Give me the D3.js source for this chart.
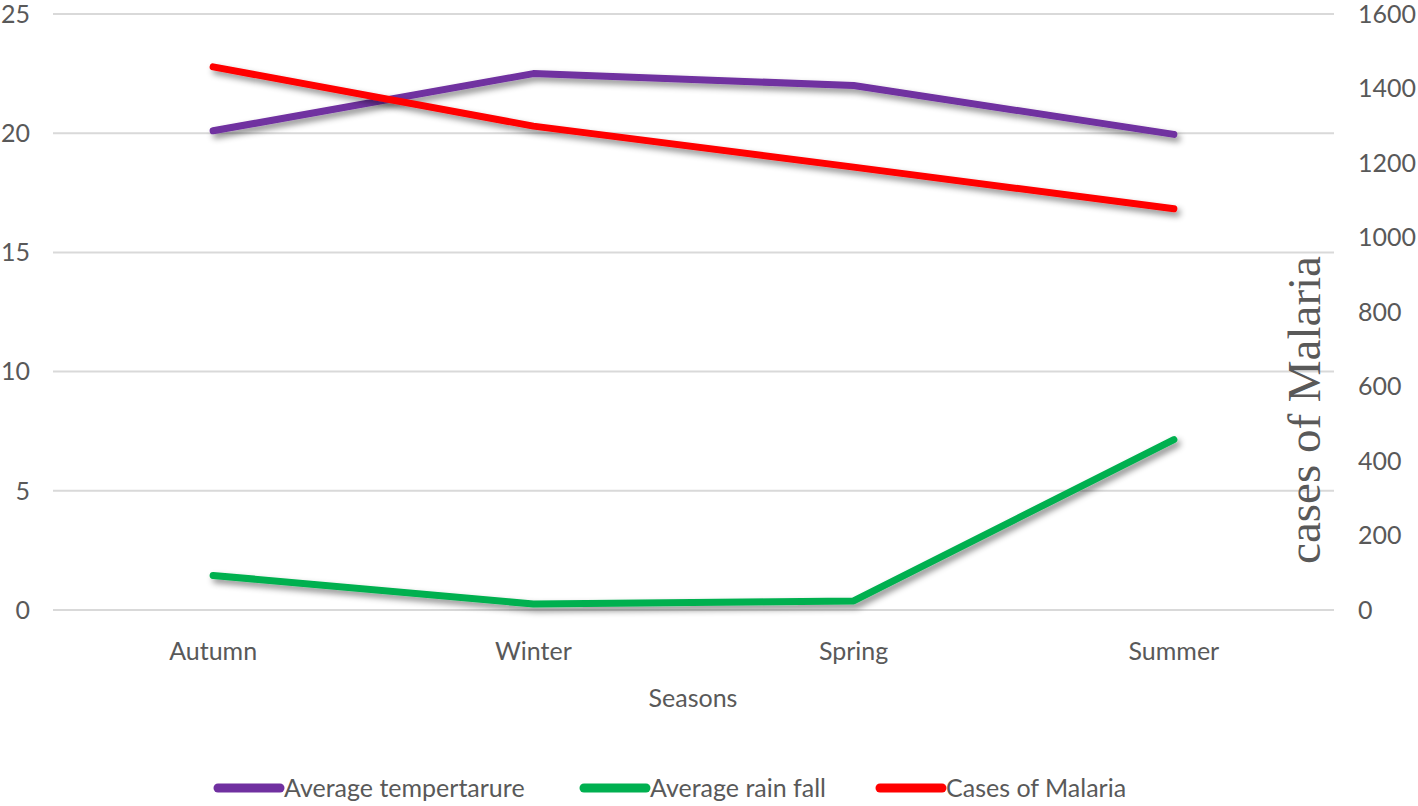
<!DOCTYPE html>
<html><head><meta charset="utf-8">
<script src="https://cdn.jsdelivr.net/npm/d3@7"></script>
<style>body{margin:0;background:#fff;} text{font-family:Lato,"Open Sans",sans-serif;}</style>
</head><body><svg id="c" width="1418" height="806"></svg>
<script>
const seasons = ["Autumn","Winter","Spring","Summer"];
const temperature = [20.1, 22.5, 22.0, 19.95];
const rainfall = [1.45, 0.25, 0.38, 7.15];
const malaria = [1458, 1299, 1189, 1077];
const leftTicks = [0,5,10,15,20,25];
const rightTicks = [0,200,400,600,800,1000,1200,1400,1600];
const seriesNames = ["Average tempertarure","Average rain fall","Cases of Malaria"];
const colors = ["#7030A0","#00B050","#FF0000"];

const svg = d3.select("#c");
const defs = svg.append("defs");
const f = defs.append("filter").attr("id","sh").attr("x","-10%").attr("y","-50%").attr("width","120%").attr("height","200%");
f.append("feDropShadow").attr("dx",3).attr("dy",4).attr("stdDeviation",3).attr("flood-color","#000").attr("flood-opacity",0.45);

const x = d3.scaleBand().domain(seasons).range([53,1334]);
const yL = d3.scaleLinear().domain([0,25]).range([610,14]);
const yR = d3.scaleLinear().domain([0,1600]).range([610,14]);
const FS = 25;

// gridlines
svg.append("g").selectAll("line").data(leftTicks).join("line")
  .attr("x1",53).attr("x2",1334).attr("y1",d=>yL(d)).attr("y2",d=>yL(d))
  .attr("stroke","#d9d9d9").attr("stroke-width",2);

// left axis labels
svg.append("g").selectAll("text").data(leftTicks).join("text")
  .attr("x",30).attr("y",d=>yL(d)).attr("dy","0.35em").attr("text-anchor","end")
  .attr("font-size",FS).attr("fill","#595959").text(d=>d);

// right axis labels
svg.append("g").selectAll("text").data(rightTicks).join("text")
  .attr("x",1358).attr("y",d=>yR(d)).attr("dy","0.35em").attr("text-anchor","start")
  .attr("font-size",FS).attr("fill","#595959").text(d=>d);

// category labels
svg.append("g").selectAll("text").data(seasons).join("text")
  .attr("x",d=>x(d)+x.bandwidth()/2).attr("y",651).attr("dy","0.35em").attr("text-anchor","middle")
  .attr("font-size",FS).attr("fill","#595959").text(d=>d);

svg.append("text").attr("x",693).attr("y",698).attr("dy","0.35em").attr("text-anchor","middle")
  .attr("font-size",FS).attr("fill","#595959").text("Seasons");

svg.append("text").attr("transform","translate(1320,410) rotate(-90)").attr("text-anchor","middle")
  .style("font-family","'Liberation Serif','Times New Roman',serif").attr("font-size",47).attr("fill","#595959")
  .text("cases of Malaria");

const cx = d => x(d)+x.bandwidth()/2;
const series = [
  {vals:temperature, y:yL},
  {vals:rainfall, y:yL},
  {vals:malaria, y:yR}
];
series.forEach((s,i)=>{
  const line = d3.line().x((d,j)=>cx(seasons[j])).y(d=>s.y(d));
  svg.append("path").datum(s.vals).attr("d",line).attr("fill","none")
    .attr("stroke",colors[i]).attr("stroke-width",7).attr("stroke-linecap","round").attr("stroke-linejoin","round")
    .attr("filter","url(#sh)");
});

// legend
const legX = [218,584,880];
const lg = svg.append("g");
seriesNames.forEach((n,i)=>{
  lg.append("line").attr("x1",legX[i]).attr("x2",legX[i]+62).attr("y1",788).attr("y2",788)
    .attr("stroke",colors[i]).attr("stroke-width",9).attr("stroke-linecap","round");
  lg.append("text").attr("x",legX[i]+66).attr("y",788).attr("dy","0.35em")
    .attr("font-size",FS).attr("fill","#595959").text(n);
});
</script></body></html>
